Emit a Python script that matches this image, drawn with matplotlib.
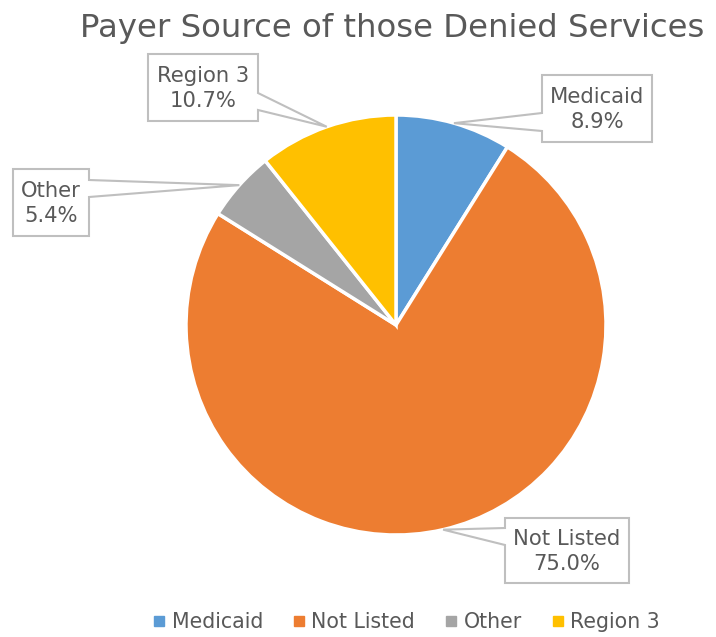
import matplotlib.pyplot as plt
from matplotlib.lines import Line2D
from matplotlib.patches import Polygon
import numpy as np

plt.rcParams['font.family'] = ['DejaVu Sans']

# data
labels = ['Medicaid', 'Not Listed', 'Other', 'Region 3']
values = [8.9, 75.0, 5.4, 10.7]
colors = ['#5B9BD5', '#ED7D31', '#A5A5A5', '#FFC000']
title = 'Payer Source of those Denied Services'

TXT = '#595959'
W, H = 716, 637

fig = plt.figure(figsize=(W / 100, H / 100), dpi=100)

# pie: center (396, 325) px, radius 210 px
cx, cy, R = 396, 325, 210
ax = fig.add_axes([(cx - R) / W, (H - cy - R) / H, 2 * R / W, 2 * R / H])
wedges, _ = ax.pie(values, colors=colors, startangle=90, counterclock=False,
                   wedgeprops=dict(edgecolor='white', linewidth=2.5))
ax.set_xlim(-1, 1)
ax.set_ylim(-1, 1)

# overlay in pixel coords (y down)
ov = fig.add_axes([0, 0, 1, 1], zorder=5)
ov.set_xlim(0, W)
ov.set_ylim(H, 0)
ov.axis('off')

# callout boxes: (x0, y0, x1, y1, tail ya, tail yb)
boxes = {
    'Medicaid': (542, 75, 652, 142, 113, 131),
    'Not Listed': (505, 518, 629, 583, 528, 545),
    'Other': (13, 169, 89, 236, 180, 197),
    'Region 3': (148, 54, 258, 121, 93, 110),
}

fig.canvas.draw()
for w, lab, v in zip(wedges, labels, values):
    ang = np.deg2rad((w.theta1 + w.theta2) / 2)
    px, py = ax.transData.transform((np.cos(ang), np.sin(ang)))
    py = H - py
    x0, y0, x1, y1, ya, yb = boxes[lab]
    if px > x1:
        pts = [(x0, y0), (x1, y0), (x1, ya), (px, py), (x1, yb), (x1, y1), (x0, y1)]
    else:
        pts = [(x0, y0), (x1, y0), (x1, y1), (x0, y1), (x0, yb), (px, py), (x0, ya)]
    ov.add_patch(Polygon(pts, closed=True, facecolor='white', edgecolor='#BFBFBF',
                         linewidth=1.5, joinstyle='miter'))
    ov.text((x0 + x1) / 2, (y0 + y1) / 2 + 1, f'{lab}\n{v:.1f}%', ha='center', va='center',
            fontsize=15.2, color=TXT, linespacing=1.3)

fig.text(392 / W, 1 - 29 / H, title, ha='center', va='center', fontsize=23.3, color=TXT)

handles = [Line2D([], [], marker='s', linestyle='none', markersize=7,
                  markerfacecolor=c, markeredgecolor=c) for c in colors]
fig.legend(handles, labels, loc='center', bbox_to_anchor=(406 / W, 1 - 622 / H), ncol=4,
           frameon=False, fontsize=14.8, labelcolor=TXT, handletextpad=0.25,
           columnspacing=1.4, handlelength=0.7)

fig.savefig('out.png', dpi=100)
